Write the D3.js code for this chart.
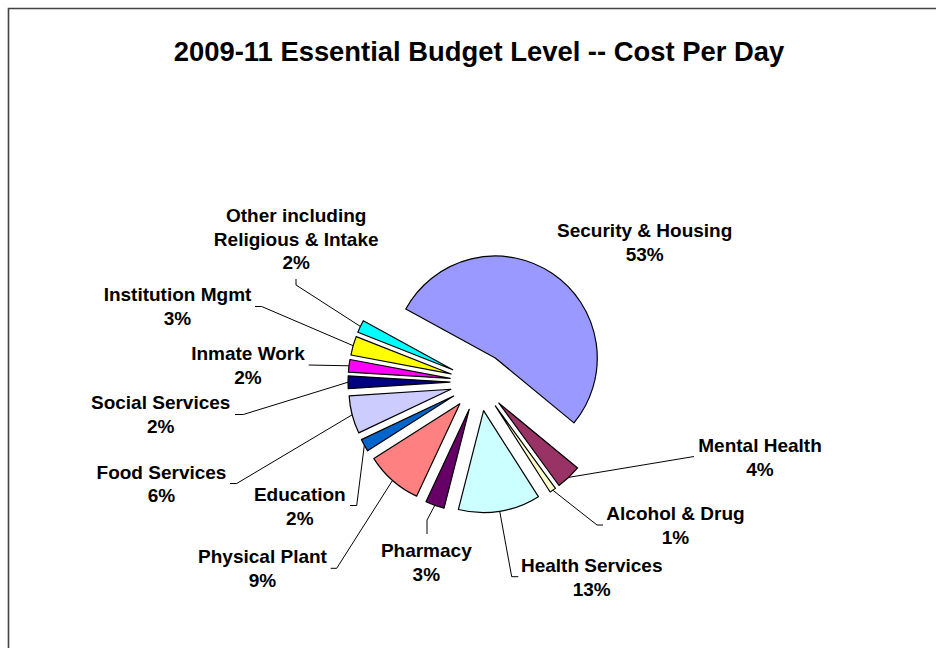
<!DOCTYPE html>
<html>
<head>
<meta charset="utf-8">
<script src="https://cdn.jsdelivr.net/npm/d3@7/dist/d3.min.js"></script>
<style>
  html, body { margin: 0; padding: 0; background: #ffffff; }
  svg { display: block; }
  text { font-family: "Liberation Sans", Arial, Helvetica, sans-serif; font-weight: bold; fill: #000; }
</style>
</head>
<body>
<svg id="chart" width="936" height="648"></svg>
<script>
// Budget categories, in drawing order (clockwise)
const categories = [
  "Security & Housing", "Mental Health", "Alcohol & Drug", "Health Services",
  "Pharmacy", "Physical Plant", "Education", "Food Services",
  "Social Services", "Inmate Work", "Institution Mgmt",
  "Other including Religious & Intake"
];
// Share of the cost per day, percent
const shares = [53, 4, 1, 13, 3, 9, 2, 6, 2, 2, 3, 2];
// Label text lines per category (percent line is appended from the shares)
const labelLines = [
  ["Security & Housing"], ["Mental Health"], ["Alcohol & Drug"], ["Health Services"],
  ["Pharmacy"], ["Physical Plant"], ["Education"], ["Food Services"],
  ["Social Services"], ["Inmate Work"], ["Institution Mgmt"],
  ["Other including", "Religious & Intake"]
];
const colors = [
  "#9999FF", "#993366", "#FFFFCC", "#CCFFFF", "#660066", "#FF8080",
  "#0066CC", "#CCCCFF", "#000080", "#FF00FF", "#FFFF00", "#00FFFF"
];
const title = "2009-11 Essential Budget Level -- Cost Per Day";

const svg = d3.select("#chart");

// Plot frame (open on the right and bottom)
svg.append("path")
  .attr("d", "M8.5,648 L8.5,8.5 L936,8.5")
  .attr("fill", "none")
  .attr("stroke", "#444")
  .attr("stroke-width", 1.6);

svg.append("text")
  .attr("x", 479).attr("y", 61)
  .attr("text-anchor", "middle")
  .style("font-size", "27.4px")
  .text(title);

// Exploded pie geometry
const cx = 479, cy = 382, radius = 102, explode = 29;
const startAngle = -61.3 * Math.PI / 180;

const pie = d3.pie().sort(null).value(d => d)
  .startAngle(startAngle).endAngle(startAngle + 2 * Math.PI);
const arcs = pie(shares);
const arc = d3.arc().innerRadius(0).outerRadius(radius);

const g = svg.append("g").attr("transform", `translate(${cx},${cy})`);

function dir(a) { return [Math.sin(a), -Math.cos(a)]; }

g.selectAll("path.slice")
  .data(arcs)
  .join("path")
  .attr("class", "slice")
  .attr("transform", d => {
    const m = (d.startAngle + d.endAngle) / 2;
    const [ux, uy] = dir(m);
    return `translate(${ux * explode},${uy * explode})`;
  })
  .attr("d", arc)
  .attr("fill", (d, i) => colors[i])
  .attr("stroke", "#000")
  .attr("stroke-width", 1.2)
  .attr("stroke-linejoin", "round");

// Label placement: text centre x, first baseline y, and leader knee/end (page coords)
const labelLayout = [
  { x: 644.7, y: 236.7 },
  { x: 760,   y: 451.7, end: [694, 456.5] },
  { x: 675.5, y: 520,   knee: [597, 525],   end: [603, 525] },
  { x: 591.7, y: 571.7, knee: [511.7, 576.7], end: [518.3, 576.7] },
  { x: 426.3, y: 556.7, knee: [427, 520],   end: [427, 534] },
  { x: 262.5, y: 563.3, knee: [336.7, 568.3], end: [330.7, 568.3] },
  { x: 299.8, y: 500.7, knee: [356.7, 505.5], end: [350, 505.5] },
  { x: 161.5, y: 478.5, knee: [236.7, 483.5], end: [230, 483.5] },
  { x: 160.7, y: 409.3, knee: [243.3, 414.5], end: [235, 414.5] },
  { x: 248,   y: 360,   end: [308.7, 365] },
  { x: 177.5, y: 301,   knee: [261.7, 306.5], end: [255, 306.5] },
  { x: 296.2, y: 221.7, knee: [296, 285],   end: [296, 279] }
];

const lineH = 23.8;
const leaders = svg.append("g");
const labels = svg.append("g");

arcs.forEach((d, i) => {
  const L = labelLayout[i];
  if (L.end) {
    const m = (d.startAngle + d.endAngle) / 2;
    const [ux, uy] = dir(m);
    const r0 = explode + radius;
    const pts = [[cx + ux * r0, cy + uy * r0]];
    if (L.knee) pts.push(L.knee);
    pts.push(L.end);
    leaders.append("path")
      .attr("d", d3.line()(pts))
      .attr("fill", "none")
      .attr("stroke", "#000")
      .attr("stroke-width", 1);
  }
  const lines = labelLines[i].concat([shares[i] + "%"]);
  const t = labels.append("text")
    .attr("text-anchor", "middle")
    .style("font-size", "19px");
  lines.forEach((s, k) => {
    t.append("tspan").attr("x", L.x).attr("y", L.y + k * lineH).text(s);
  });
});
</script>
</body>
</html>
